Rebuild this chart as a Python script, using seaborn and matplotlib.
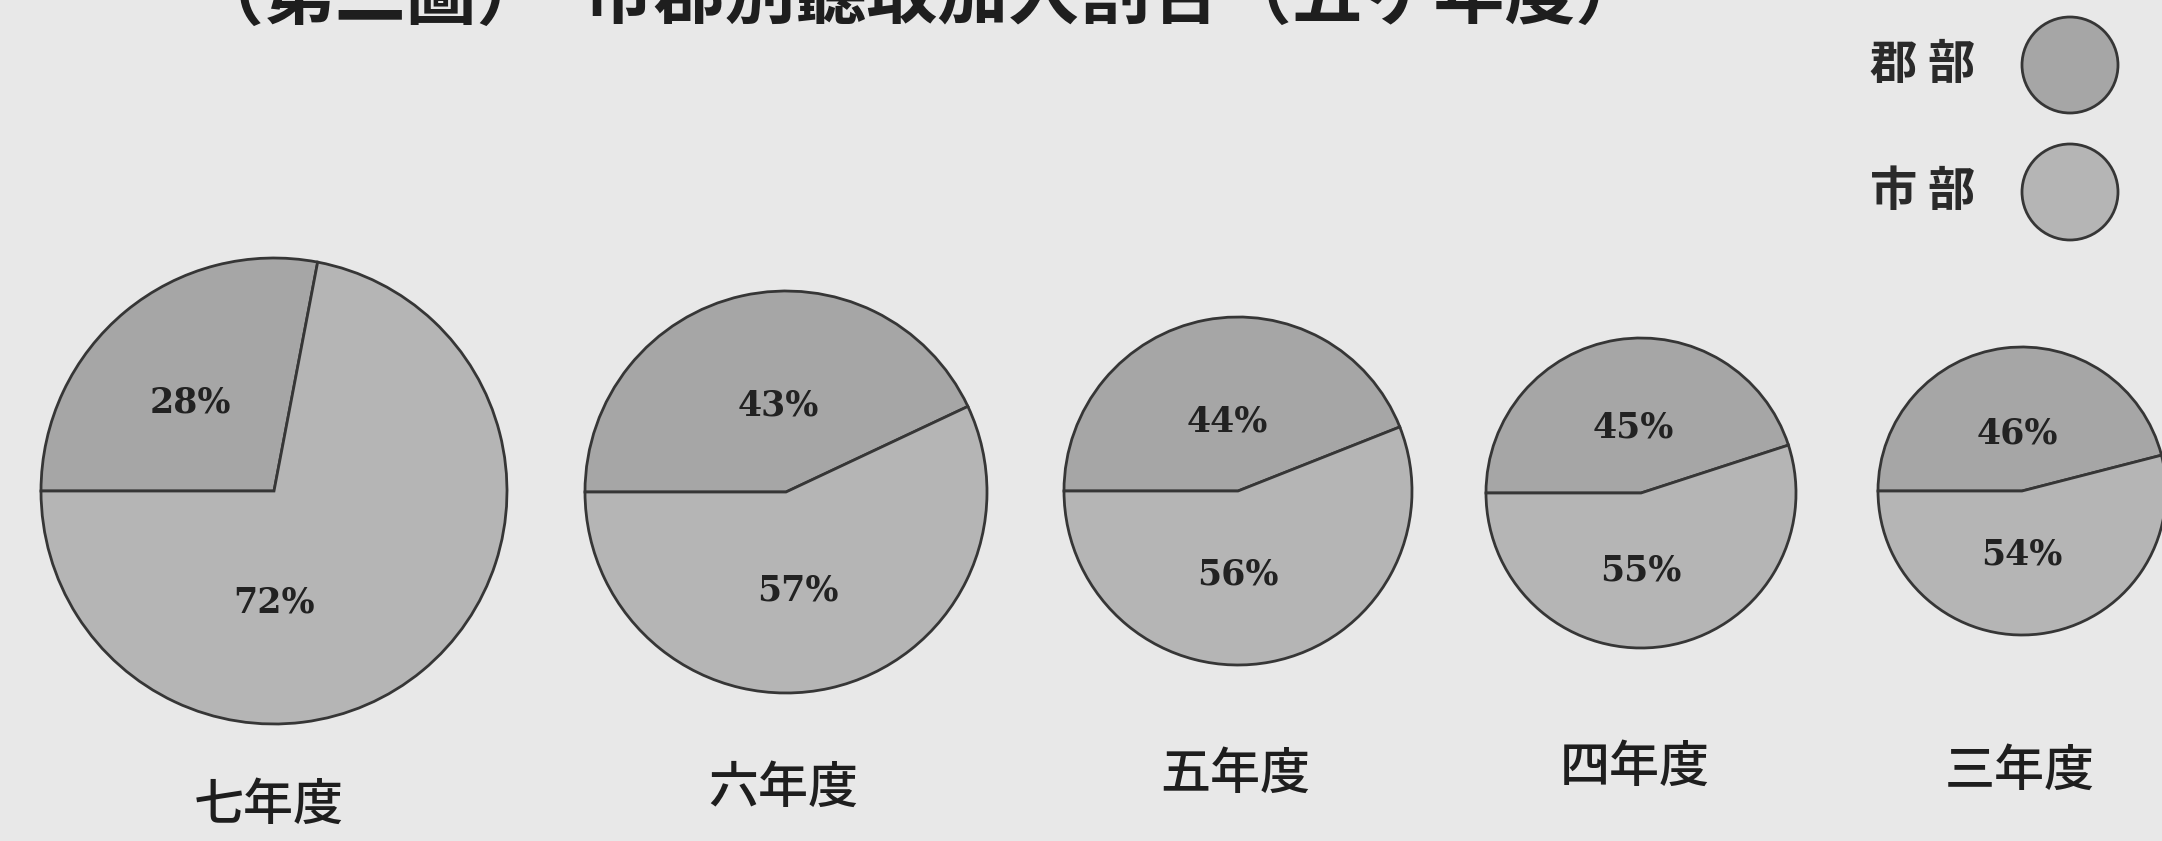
import numpy as np
import pandas as pd
import matplotlib
matplotlib.use("Agg")
import matplotlib.pyplot as plt
import seaborn as sns
from matplotlib.patches import Circle

# ---------------- data ----------------
years = ["七年度", "六年度", "五年度", "四年度", "三年度"]
gunbu = [28, 43, 44, 45, 46]     # 郡部 (%)
shibu = [72, 57, 56, 55, 54]     # 市部 (%)
series = ["郡部", "市部"]
legend_labels = ["郡 部", "市 部"]
title_left = "（第二圖）"
title_right = "市郡別聽取加入割合（五ヶ年度）"

# ---------------- layout (pixels, from top-left) ----------------
W, H = 2162, 841
centers_x = [274, 786, 1238, 1641, 2022]
centers_y = [491, 492, 491, 493, 491]
radii = [233, 201, 174, 155, 144]
year_label_x = [269, 783, 1235, 1635, 2020]
year_label_y = [806, 789, 775, 768, 772]
top_off = [(-0.36, 0.38), (-0.04, 0.43), (-0.06, 0.40), (-0.05, 0.42), (-0.03, 0.40)]
bot_off = [(0.0, -0.48), (0.06, -0.49), (0.0, -0.48), (0.0, -0.50), (0.0, -0.44)]

sns.set_theme(style="white")
plt.rcParams['font.family'] = ['Noto Sans CJK JP', 'DejaVu Sans']

bg = "#e8e8e8"
edge = "#363636"
palette = dict(zip(series, ["#a6a6a6", "#b5b5b5"]))

fig = plt.figure(figsize=(W / 100, H / 100), dpi=100)
fig.patch.set_facecolor(bg)
ax = fig.add_axes([0, 0, 1, 1])
ax.set_facecolor(bg)

df = pd.DataFrame({"年度": years, "郡部": gunbu, "市部": shibu})

for i, row in df.iterrows():
    cx = centers_x[i]
    cy = H - centers_y[i]
    r = radii[i]
    vals = [row[s] for s in series]
    ax.pie(vals, colors=[palette[s] for s in series], startangle=180,
           counterclock=False, center=(cx, cy), radius=r, frame=True,
           wedgeprops=dict(edgecolor=edge, linewidth=2.0))
    tx, ty = top_off[i]
    bx, by = bot_off[i]
    ax.text(cx + tx * r, cy + ty * r, f"{row['郡部']}%", ha="center", va="center",
            fontsize=25, fontweight="bold", family="DejaVu Serif", color="#222222")
    ax.text(cx + bx * r, cy + by * r, f"{row['市部']}%", ha="center", va="center",
            fontsize=25, fontweight="bold", family="DejaVu Serif", color="#222222")
    ax.text(year_label_x[i], H - year_label_y[i], row["年度"], ha="center", va="center",
            fontsize=36, fontweight="medium", color="#1e1e1e")

# legend (text left of circle)
leg_y = [65, 192]
for s, lab, y in zip(series, legend_labels, leg_y):
    ax.text(1923, H - y, lab, ha="center", va="center", fontsize=34,
            fontweight="bold", color="#2a2a2a")
    ax.add_patch(Circle((2070, H - y), 48, facecolor=palette[s], edgecolor=edge,
                        linewidth=2.0))

# title (cropped at top edge, as in the reference)
ax.text(193, H + 2, title_left, ha="left", va="center", fontsize=51,
        fontweight="bold", color="#1e1e1e")
ax.text(583, H + 2, title_right, ha="left", va="center", fontsize=51,
        fontweight="bold", color="#1e1e1e")

ax.set_xlim(0, W)
ax.set_ylim(0, H)
ax.set_aspect("equal")
ax.axis("off")

fig.savefig("out.png", dpi=100, facecolor=bg)
